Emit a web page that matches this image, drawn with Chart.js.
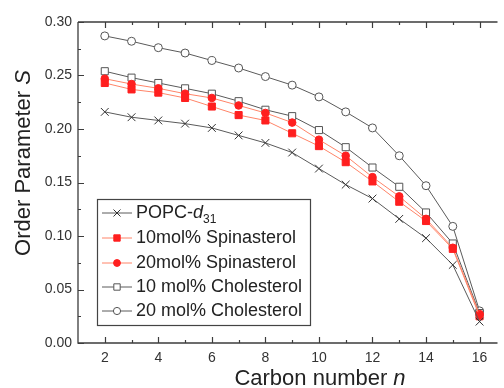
<!DOCTYPE html>
<html>
<head>
<meta charset="utf-8">
<script src="https://cdn.jsdelivr.net/npm/chart.js@4/dist/chart.umd.min.js"></script>
<style>
  html, body { margin: 0; padding: 0; background: #fff; }
  #wrap { width: 504px; height: 388px; }
</style>
</head>
<body>
<div id="wrap"><canvas id="chart" width="504" height="388"></canvas></div>
<script>
// carbon number n
var carbon = [2, 3, 4, 5, 6, 7, 8, 9, 10, 11, 12, 13, 14, 15, 16];

// order parameter S per series
var popc      = [0.216, 0.211, 0.208, 0.205, 0.201, 0.194, 0.187, 0.178, 0.163, 0.148, 0.135, 0.116, 0.098, 0.073, 0.020];
var spin10    = [0.243, 0.237, 0.234, 0.229, 0.221, 0.213, 0.208, 0.196, 0.184, 0.169, 0.151, 0.132, 0.114, 0.088, 0.025];
var spin20    = [0.247, 0.242, 0.238, 0.233, 0.229, 0.222, 0.215, 0.206, 0.190, 0.175, 0.155, 0.137, 0.116, 0.089, 0.027];
var chol10    = [0.254, 0.248, 0.243, 0.238, 0.233, 0.226, 0.218, 0.212, 0.199, 0.183, 0.164, 0.146, 0.122, 0.093, 0.028];
var chol20    = [0.287, 0.282, 0.276, 0.271, 0.264, 0.257, 0.249, 0.241, 0.230, 0.216, 0.201, 0.175, 0.147, 0.109, 0.030];

var seriesLabels = ['POPC-d31', '10mol% Spinasterol', '20mol% Spinasterol', '10 mol% Cholesterol', '20 mol% Cholesterol'];

var xTicks = [2, 4, 6, 8, 10, 12, 14, 16];
var xMinor = [3, 5, 7, 9, 11, 13, 15];
var yTicks = [0, 0.05, 0.10, 0.15, 0.20, 0.25, 0.30];
var yMinor = [0.025, 0.075, 0.125, 0.175, 0.225, 0.275];

var FONT = '"Liberation Sans", Arial, sans-serif';
var GREY = '#5a5a5a';
var RED = '#ff1f1f';
var REDLINE = '#ff8468';

function pts(vals) {
   return vals.map(function(v, i) { return { x: carbon[i], y: v }; });
}

function makeSet(label, vals, style) {
   return Object.assign({
      label: label,
      data: pts(vals),
      borderWidth: 1,
      pointBorderWidth: 1,
      tension: 0,
      fill: false
   }, style);
}

var datasets = [
   makeSet(seriesLabels[0], popc, { borderColor: GREY, pointStyle: 'crossRot', pointRadius: 5.5, pointBorderColor: '#333', pointBackgroundColor: '#333' }),
   makeSet(seriesLabels[1], spin10, { borderColor: REDLINE, pointStyle: 'rect', pointRadius: 5, pointBorderColor: RED, pointBackgroundColor: RED }),
   makeSet(seriesLabels[2], spin20, { borderColor: REDLINE, pointStyle: 'circle', pointRadius: 3.8, pointBorderColor: RED, pointBackgroundColor: RED }),
   makeSet(seriesLabels[3], chol10, { borderColor: GREY, pointStyle: 'rect', pointRadius: 5, pointBorderColor: '#555', pointBackgroundColor: '#fff' }),
   makeSet(seriesLabels[4], chol20, { borderColor: GREY, pointStyle: 'circle', pointRadius: 4, pointBorderColor: '#555', pointBackgroundColor: '#fff' })
];

// axes frame with inward ticks, plus axis titles
var framePlugin = {
   id: 'frame',
   afterDraw: function(chart) {
      var ctx = chart.ctx;
      var a = chart.chartArea;
      var xs = chart.scales.x, ys = chart.scales.y;
      ctx.save();
      ctx.strokeStyle = '#3c3c3c';
      ctx.lineWidth = 1.3;
      ctx.beginPath();
      ctx.moveTo(a.left, a.top); ctx.lineTo(a.left, a.bottom); ctx.lineTo(a.right, a.bottom);
      ctx.moveTo(a.left, a.top); ctx.lineTo(a.right, a.top);
      ctx.stroke();

      ctx.lineWidth = 1.2;
      ctx.beginPath();
      xTicks.concat(xMinor).forEach(function(v) {
         var len = xTicks.indexOf(v) >= 0 ? 6 : 3;
         var px = Math.round(xs.getPixelForValue(v)) + 0.5;
         ctx.moveTo(px, a.bottom); ctx.lineTo(px, a.bottom - len);
         ctx.moveTo(px, a.top); ctx.lineTo(px, a.top + len);
      });
      yTicks.concat(yMinor).forEach(function(v) {
         var len = yTicks.indexOf(v) >= 0 ? 6 : 3;
         var py = Math.round(ys.getPixelForValue(v)) + 0.5;
         ctx.moveTo(a.left, py); ctx.lineTo(a.left + len, py);
      });
      ctx.stroke();

      // x title
      ctx.fillStyle = '#222';
      ctx.textBaseline = 'alphabetic';
      var t1 = 'Carbon number ', t2 = 'n';
      ctx.font = '22px ' + FONT;
      var w1 = ctx.measureText(t1).width;
      ctx.font = 'italic 22px ' + FONT;
      var w2 = ctx.measureText(t2).width;
      var x0 = 320 - (w1 + w2) / 2;
      ctx.font = '22px ' + FONT;
      ctx.textAlign = 'left';
      ctx.fillText(t1, x0, 385);
      ctx.font = 'italic 22px ' + FONT;
      ctx.fillText(t2, x0 + w1, 385);

      // y title
      ctx.save();
      ctx.translate(30, 163);
      ctx.rotate(-Math.PI / 2);
      var s1 = 'Order Parameter ', s2 = 'S';
      ctx.font = '22px ' + FONT;
      var v1 = ctx.measureText(s1).width;
      ctx.font = 'italic 22px ' + FONT;
      var v2 = ctx.measureText(s2).width;
      var y0 = -(v1 + v2) / 2;
      ctx.font = '22px ' + FONT;
      ctx.fillText(s1, y0, 0);
      ctx.font = 'italic 22px ' + FONT;
      ctx.fillText(s2, y0 + v1, 0);
      ctx.restore();
      ctx.restore();
   }
};

// boxed legend with line + marker samples
var legendPlugin = {
   id: 'boxLegend',
   afterDatasetsDraw: function(chart) {
      var ctx = chart.ctx;
      var bx = 97, by = 199, bw = 213, bh = 126;
      var rowY = [213, 238, 263, 287, 311];
      ctx.save();
      ctx.fillStyle = '#fff';
      ctx.fillRect(bx, by, bw, bh);
      ctx.strokeStyle = '#444';
      ctx.lineWidth = 1.2;
      ctx.strokeRect(bx + 0.5, by + 0.5, bw, bh);

      chart.data.datasets.forEach(function(ds, i) {
         var y = rowY[i];
         ctx.strokeStyle = ds.borderColor;
         ctx.lineWidth = 1;
         ctx.beginPath();
         ctx.moveTo(102, y); ctx.lineTo(132, y);
         ctx.stroke();
         ctx.fillStyle = ds.pointBackgroundColor;
         ctx.strokeStyle = ds.pointBorderColor;
         Chart.helpers.drawPoint(ctx, {
            pointStyle: ds.pointStyle,
            radius: ds.pointRadius * 0.9,
            rotation: 0,
            borderWidth: 1
         }, 117, y);

         ctx.fillStyle = '#222';
         ctx.textAlign = 'left';
         ctx.textBaseline = 'middle';
         var tx = 136;
         if (ds.label === 'POPC-d31') {
            ctx.font = '18px ' + FONT;
            ctx.fillText('POPC-', tx, y);
            tx += ctx.measureText('POPC-').width;
            ctx.font = 'italic 18px ' + FONT;
            ctx.fillText('d', tx, y);
            tx += ctx.measureText('d').width;
            ctx.font = '12px ' + FONT;
            ctx.fillText('31', tx, y + 7);
         } else {
            ctx.font = '18px ' + FONT;
            ctx.fillText(ds.label, tx, y);
         }
      });
      ctx.restore();
   }
};

var chart = new Chart(document.getElementById('chart').getContext('2d'), {
   type: 'line',
   data: { datasets: datasets },
   options: {
      responsive: false,
      animation: false,
      devicePixelRatio: 1,
      layout: { padding: { top: 22, right: 0, left: 0, bottom: 0 } },
      plugins: {
         legend: { display: false },
         tooltip: { enabled: false }
      },
      scales: {
         x: {
            type: 'linear',
            min: 1,
            max: 16.67,
            afterBuildTicks: function(s) { s.ticks = xTicks.map(function(v) { return { value: v }; }); },
            afterFit: function(s) { s.height = 45; },
            grid: { display: false, drawTicks: false },
            border: { display: false },
            ticks: { font: { family: FONT, size: 14 }, color: '#333', padding: 7, maxRotation: 0 }
         },
         y: {
            min: 0,
            max: 0.30,
            afterBuildTicks: function(s) { s.ticks = yTicks.map(function(v) { return { value: v }; }); },
            afterFit: function(s) { s.width = 78; },
            grid: { display: false, drawTicks: false },
            border: { display: false },
            ticks: {
               font: { family: FONT, size: 14 },
               color: '#333',
               padding: 6,
               callback: function(v) { return v.toFixed(2); }
            }
         }
      }
   },
   plugins: [framePlugin, legendPlugin]
});
</script>
</body>
</html>
